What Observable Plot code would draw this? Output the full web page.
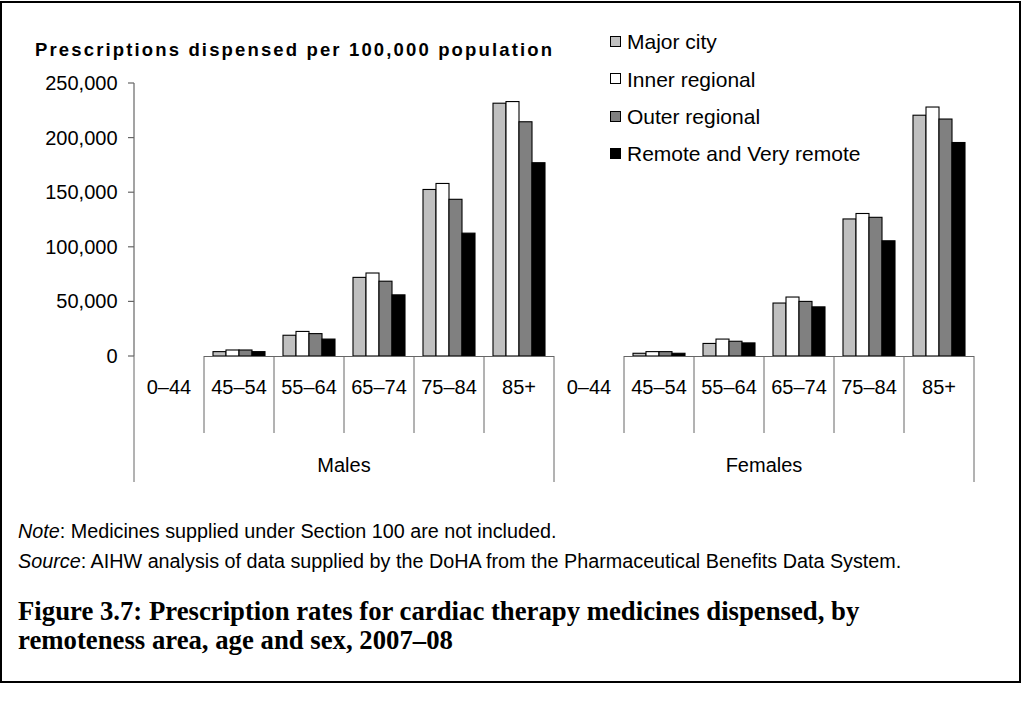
<!DOCTYPE html>
<html><head><meta charset="utf-8">
<script src="https://cdn.jsdelivr.net/npm/d3@7"></script>
<script src="https://cdn.jsdelivr.net/npm/@observablehq/plot@0.6"></script>
<style>
body{margin:0;background:#fff;}
#page{position:relative;width:1023px;height:702px;overflow:hidden;font-family:"Liberation Sans",Arial,sans-serif;color:#000;background:#fff;}
.abs{position:absolute;white-space:nowrap;line-height:1;}
#chart{position:absolute;left:0;top:0;}
#border{position:absolute;left:0;top:1px;width:1017px;height:678px;border:2px solid #000;}
</style></head><body><div id="page"><div id="border"></div><div id="chart"></div></div>
<script>
// ---- data ----
const sexes = ["Males", "Females"];
const ages = ["0–44", "45–54", "55–64", "65–74", "75–84", "85+"];
const regions = ["Major city", "Inner regional", "Outer regional", "Remote and Very remote"];
const regionFills = ["#c0c0c0", "#ffffff", "#808080", "#000000"];
const yTicks = [0, 50000, 100000, 150000, 200000, 250000];

// prescriptions per 100,000 population, by age group (0–44 not shown)
const malesMajorCity      = [null, 4000, 19000, 72000, 152500, 231500];
const malesInnerRegional  = [null, 5500, 22500, 76000, 158000, 233000];
const malesOuterRegional  = [null, 5500, 20500, 68500, 143500, 214500];
const malesRemote         = [null, 4000, 15500, 56000, 112500, 177000];
const femalesMajorCity     = [null, 2500, 11500, 48500, 125500, 220500];
const femalesInnerRegional = [null, 4000, 15500, 54000, 130500, 228000];
const femalesOuterRegional = [null, 4000, 13500, 50000, 127000, 217000];
const femalesRemote        = [null, 2500, 12000, 45000, 105500, 195500];

const seriesBySex = {
  Males: [malesMajorCity, malesInnerRegional, malesOuterRegional, malesRemote],
  Females: [femalesMajorCity, femalesInnerRegional, femalesOuterRegional, femalesRemote]
};

const noteText = "Medicines supplied under Section 100 are not included.";
const sourceText = "AIHW analysis of data supplied by the DoHA from the Pharmaceutical Benefits Data System.";
const captionLines = ["Figure 3.7: Prescription rates for cardiac therapy medicines dispensed, by",
                      "remoteness area, age and sex, 2007–08"];
const yTitle = "Prescriptions dispensed per 100,000 population";

// ---- table ----
const keys = [];
sexes.forEach(s => ages.forEach(a => keys.push(s + "|" + a)));
const data = [];
sexes.forEach(s => {
  seriesBySex[s].forEach((vals, r) => {
    vals.forEach((v, i) => {
      if (v != null) data.push({key: s + "|" + ages[i], sex: s, age: ages[i], region: regions[r], value: v});
    });
  });
});

const W = 1023, H = 500;
const plot = Plot.plot({
  width: W, height: H,
  marginLeft: 129, marginRight: 44, marginTop: 83, marginBottom: H - 356,
  style: {fontFamily: '"Liberation Sans", Arial, sans-serif', fontSize: "20px", color: "#000", background: "transparent", overflow: "visible"},
  fx: {domain: keys, padding: 0, axis: null},
  x: {domain: regions, paddingInner: 0, paddingOuter: 0.68, axis: null},
  y: {domain: [0, 250000]},
  color: {domain: regions, range: regionFills},
  marks: [
    Plot.axisY({facetAnchor: "left", ticks: yTicks, tickFormat: d3.format(","), label: null,
                tickSize: 0, tickPadding: 17, fontSize: 20, fill: "#000"}),
    Plot.barY(data, {fx: "key", x: "region", y: "value", fill: "region", stroke: "#000", strokeWidth: 1.1}),
    Plot.ruleY([0], {stroke: "#666", strokeWidth: 1.2})
  ]
});
document.getElementById("chart").appendChild(plot);

// axis line, outward ticks and hierarchical category axis, using the plot's own scales
const svg = d3.select(plot);
const fxS = plot.scale("fx"), yS = plot.scale("y");
const bw = fxS.bandwidth;
const y0 = yS.apply(0), yTop = yS.apply(250000);
const x0 = fxS.apply(keys[0]);
const g = svg.append("g");
g.append("line").attr("x1", x0).attr("x2", x0).attr("y1", yTop).attr("y2", y0)
  .attr("stroke", "#666").attr("stroke-width", 1.2);
yTicks.forEach(t => {
  const y = yS.apply(t);
  g.append("line").attr("x1", x0 - 6).attr("x2", x0).attr("y1", y).attr("y2", y)
    .attr("stroke", "#666").attr("stroke-width", 1.2);
});
keys.forEach((k, i) => {
  const x = fxS.apply(k);
  const long = i % ages.length === 0;
  g.append("line").attr("x1", x).attr("x2", x).attr("y1", y0).attr("y2", y0 + (long ? 126 : 77))
    .attr("stroke", "#666").attr("stroke-width", 1);
  g.append("text").attr("x", x + bw / 2).attr("y", y0 + 38).attr("text-anchor", "middle")
    .attr("fill", "#000").attr("font-size", 20).text(k.split("|")[1]);
});
const xEnd = fxS.apply(keys[keys.length - 1]) + bw;
g.append("line").attr("x1", xEnd).attr("x2", xEnd).attr("y1", y0).attr("y2", y0 + 126)
  .attr("stroke", "#666").attr("stroke-width", 1);
sexes.forEach((s, j) => {
  const a = fxS.apply(keys[j * ages.length]);
  const b = fxS.apply(keys[j * ages.length + ages.length - 1]) + bw;
  g.append("text").attr("x", (a + b) / 2).attr("y", y0 + 116).attr("text-anchor", "middle")
    .attr("fill", "#000").attr("font-size", 20).text(s);
});

// ---- text blocks ----
const page = document.getElementById("page");
const ctx = document.createElement("canvas").getContext("2d");
function measure(font, t) { ctx.font = font; return ctx.measureText(t).width; }
function addText(html, left, baseline, size, family, weight, extra) {
  const d = document.createElement("div");
  d.className = "abs";
  d.innerHTML = html;
  d.style.left = left + "px";
  d.style.fontSize = size + "px";
  d.style.fontFamily = family;
  d.style.fontWeight = weight || "normal";
  d.style.top = (baseline - 0.8465 * size) + "px";
  if (extra) Object.assign(d.style, extra);
  page.appendChild(d);
  return d;
}
const sans = '"Liberation Sans", Arial, sans-serif';
const serif = '"Liberation Serif", "Times New Roman", serif';

// y-axis title with letter spacing fitted to the reference width
const tSize = 18.5;
const tW = measure(`bold ${tSize}px "Liberation Sans"`, yTitle);
const ls = (517 - tW) / (yTitle.length - 1);
addText(yTitle, 35, 57, tSize, sans, "bold", {letterSpacing: ls + "px"});

// legend
regions.forEach((r, i) => {
  const cy = 41.5 + i * 37.3;
  const sq = document.createElement("div");
  sq.style.cssText = `position:absolute;left:610px;top:${cy - 5.5}px;width:9px;height:9px;border:1px solid #000;background:${regionFills[i]};`;
  page.appendChild(sq);
  addText(r, 627, cy + 7.5, 21, sans);
});

// notes, size fitted to the width of the source line
const srcPlain = "Source: " + sourceText;
const nSize = 100 * 886 / measure(`100px "Liberation Sans"`, srcPlain);
addText(`<i>Note</i>: ${noteText}`, 18, 539, nSize, sans);
addText(`<i>Source</i>: ${sourceText}`, 18, 569, nSize, sans);

// caption, size fitted to width of first line
const cW = measure(`bold 100px "Liberation Serif"`, captionLines[0]);
const cSize = 100 * 842 / cW;
addText(captionLines[0], 18, 621, cSize, serif, "bold");
addText(captionLines[1], 18, 650, cSize, serif, "bold");
</script></body></html>
